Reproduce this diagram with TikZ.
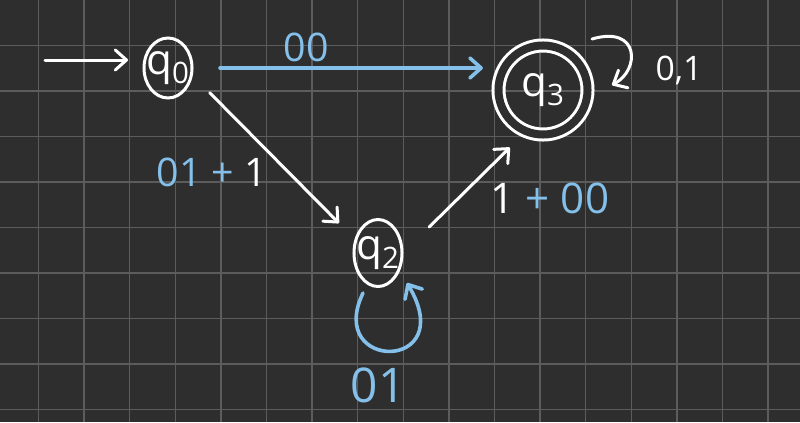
\documentclass[tikz,border=0pt]{standalone}
\usepackage{fontspec}
\setmainfont{Open Sans}
\usepackage{xcolor}
\definecolor{BoardGray}{RGB}{46,46,46}
\definecolor{GridGray}{RGB}{92,92,92}
\definecolor{ChalkBlue}{RGB}{132,192,234}
\usetikzlibrary{arrows.meta}
\usetikzlibrary{shapes.geometric}

\newcommand{\qstate}[1]{q\textsubscript{#1}}

\begin{document}
\begin{tikzpicture}[
    x = 0.025cm, y = -0.025cm
    , grid/.style = {
      , draw = GridGray
      , line width = 0.0375cm
    }
    , st/.style = {
      , ellipse
      , draw = white
      , line width = 0.075cm
      , inner sep = -0.2cm
      , outer sep = 0pt
      , text = white
      , minimum width = 1.2cm
      , minimum height = 1.5cm
      , font = \fontsize{30}{30}\selectfont
    }
    , acc/.style = {
      st,
      circle,
      double = BoardGray,
      double distance = 0.2cm,
      minimum size = 2.225cm
    }
    , warr/.style = {
      , draw = white
      , line width = 0.075cm
      , line cap = round
      , -{Straight Barb[round, length=0.28cm, width=0.5cm]}
    }
    , barr/.style = {
      warr,
      draw = ChalkBlue,
      line width = 0.09cm
    }
    , lbl/.style = {
      , inner sep = 0pt
      , text = white
      , font = \fontsize{28}{28}\selectfont
    }
    ]
    \useasboundingbox (0,0) rectangle (800,422);
    \fill[BoardGray] (0,0) rectangle (800,422);

    % squared paper
    \foreach \gx in {1,...,17}
      \draw[grid] ({-7.1+45.6*\gx},0) -- ++(0,422);
    \foreach \gy in {1,...,9}
      \draw[grid] (0,{45.5*\gy}) -- ++(800,0);

    \node[st] (q0) at (168,68) {\qstate{0}};
    \node[acc] (q3) at (543,90) {\qstate{3}};
    \node[st, minimum height = 1.675cm] (q2) at (378,253) {\qstate{2}};

    \coordinate (start) at (45,60);
    \draw[warr, shorten > = 0.4cm] (start) -- (start -| q0.west);

    \draw[barr, shorten < = 0.7cm, shorten > = 0.39cm] (q0.east) -- (q0.east -| q3.west);
    \draw[warr, shorten < = 0.65cm, shorten > = 0.6cm] (q0.-15) -- (q2.150);
    \draw[warr, shorten < = 0.95cm, shorten > = 0.58cm] (q2.-2) -- (q3.-112);

    % loops
    \draw[warr] ([shift={(49,-51)}]q3.center) .. controls +(48,-14) and +(28,-15) .. ([shift={(69,-5)}]q3.center);
    \draw[barr] ([shift={(-15,40)}]q2.center) .. controls +(-38,79) and +(53,89) .. ([shift={(29,30)}]q2.center);

    \node[lbl, text = ChalkBlue] (l00) at (306,47) {00};
    \node[lbl, font = \fontsize{24}{24}\selectfont] (l11) at (679,70) {0,1};
    \node[lbl] (l011) at (212,172) {\textcolor{ChalkBlue}{01 +} 1};
    \node[lbl, font = \fontsize{30}{30}\selectfont] (l100) at (550,198) {1 \textcolor{ChalkBlue}{+ 00}};
    \node[lbl, text = ChalkBlue, font = \fontsize{34}{34}\selectfont] (lloop) at (378,385) {01};
  \end{tikzpicture}
\end{document}
